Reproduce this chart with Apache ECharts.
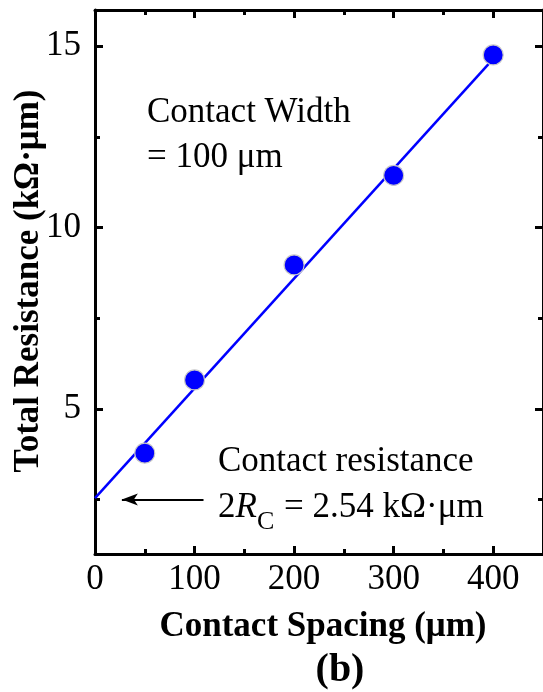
<!DOCTYPE html>
<html><head><meta charset="utf-8">
<script src="https://cdn.jsdelivr.net/npm/echarts@6/dist/echarts.min.js"></script>
<style>html,body{margin:0;padding:0;background:#fff}#c{width:543px;height:692px}</style>
</head><body><div id="c"></div>
<script>
const spacing = [50, 100, 200, 300, 400];
const resistance = [3.78, 5.8, 8.97, 11.44, 14.76];
const fitX = [0, 400];
const fitY = [2.54, 14.65];
const xMajorTicks = [100, 200, 300, 400];
const xMinorTicks = [50, 150, 250, 350];
const xLabels = [0, 100, 200, 300, 400];
const yMajorTicks = [5, 10, 15];
const yMinorTicks = [2.5, 7.5, 12.5];
const arrowFrom = [109, 2.5];
const arrowTo = [27, 2.5];

const F = 'Liberation Serif, Times New Roman, serif';
function ax(pos, ticks, len, labels, showLine) {
  const isX = pos === 'bottom' || pos === 'top';
  return {
    type: 'value', position: pos, min: isX ? 0 : 1, max: isX ? 450 : 16,
    axisLine: {show: showLine, onZero: false, lineStyle: {color: '#000', width: 3}},
    axisTick: {show: true, inside: true, length: len, customValues: ticks, lineStyle: {color: '#000', width: 3}},
    axisLabel: labels ? {show: true, customValues: labels, fontFamily: F, fontSize: 35, color: '#000', margin: isX ? 8 : 14} : {show: false},
    splitLine: {show: false}
  };
}
const chart = echarts.init(document.getElementById('c'));
chart.setOption({
  animation: false,
  grid: {left: 95, top: 10, right: -6, bottom: 138, containLabel: false},
  xAxis: [
    ax('bottom', xMajorTicks, 8, xLabels, true),
    ax('bottom', xMinorTicks, 5, null, false),
    ax('top', xMajorTicks, 8, null, true),
    ax('top', xMinorTicks, 5, null, false)
  ],
  yAxis: [
    ax('left', yMajorTicks, 8, yMajorTicks, true),
    ax('left', yMinorTicks, 5, null, false),
    ax('right', yMajorTicks, 8, null, true),
    ax('right', yMinorTicks, 5, null, false)
  ],
  series: [
    {
      type: 'line', data: fitX.map((x, i) => [x, fitY[i]]), showSymbol: false, symbol: 'none',
      lineStyle: {color: '#0000ff', width: 2.5}, z: 2,
      markLine: {
        silent: true, symbol: ['none', 'arrow'], symbolSize: [9, 16],
        label: {show: false},
        lineStyle: {color: '#000', width: 2.2, type: 'solid'},
        data: [[{coord: arrowFrom}, {coord: arrowTo}]]
      }
    },
    {
      type: 'scatter', data: spacing.map((x, i) => [x, resistance[i]]), symbol: 'circle', symbolSize: 20,
      itemStyle: {color: '#0000ff', opacity: 1, borderColor: '#c8c8c8', borderWidth: 1.2}, z: 3
    }
  ],
  graphic: [
    {type: 'text', left: 147, top: 95, style: {text: 'Contact Width', font: '35px ' + F, fill: '#000'}},
    {type: 'text', left: 147, top: 140, style: {text: '= 100 μm', font: '35px ' + F, fill: '#000'}},
    {type: 'text', left: 218, top: 444, style: {text: 'Contact resistance', font: '35px ' + F, fill: '#000'}},
    {type: 'text', left: 218, top: 490, style: {
      text: '2{i|R}{s|C} = 2.54 kΩ·μm', font: '35px ' + F, fill: '#000',
      rich: {i: {fontFamily: F, fontSize: 35, fontStyle: 'italic'}, s: {fontFamily: F, fontSize: 26, verticalAlign: 'bottom', padding: [30, 1, 0, 0]}}
    }},
    {type: 'text', x: 29, y: 281, rotation: Math.PI / 2, style: {text: 'Total Resistance (kΩ·μm)', font: 'bold 35px ' + F, fill: '#000', align: 'center', verticalAlign: 'middle'}},
    {type: 'text', x: 323, y: 627, style: {text: 'Contact Spacing (μm)', font: 'bold 35px ' + F, fill: '#000', align: 'center', verticalAlign: 'middle'}},
    {type: 'text', x: 340, y: 671, style: {text: '(b)', font: 'bold 40px ' + F, fill: '#000', align: 'center', verticalAlign: 'middle'}}
  ]
});
</script></body></html>
